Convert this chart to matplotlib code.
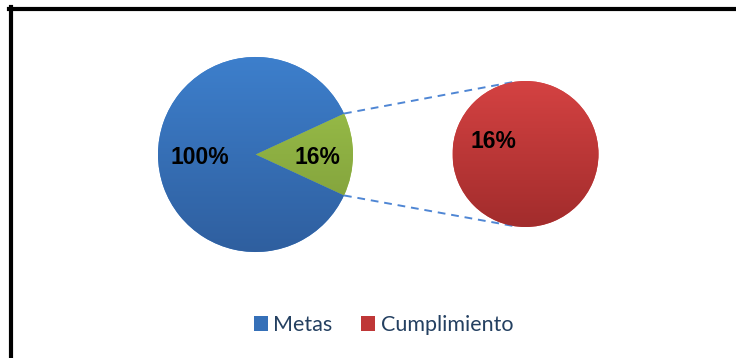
import numpy as np
import matplotlib.pyplot as plt
from matplotlib.patches import Patch
from matplotlib.colors import LinearSegmentedColormap
from matplotlib.lines import Line2D

categories = ["Metas", "Cumplimiento"]
metas = 100
cumplimiento = 16
main_labels = ["100%", "16%"]
sub_labels = ["16%"]

blue = ("#3d7fcc", "#2f5f9f")
green = ("#a0c64c", "#7a9838")
red = ("#d44242", "#a22c2c")

fig = plt.figure(figsize=(7.36, 3.58), dpi=100)
ax = fig.add_axes([0, 0, 1, 1])


def shade(patch, cols, cx, cy, r):
    # vertical gradient clipped to the wedge
    cmap = LinearSegmentedColormap.from_list("g", cols)
    grad = np.linspace(0, 1, 256).reshape(-1, 1)
    im = ax.imshow(grad, cmap=cmap, extent=(cx - r, cx + r, cy + r, cy - r),
                   origin="upper", aspect="auto", zorder=2)
    im.set_clip_path(patch)


# main pie: goal vs achieved
c1, r1 = (255.5, 154.5), 97.5
half = cumplimiento / (metas + cumplimiento) * 360 / 2
w1, _ = ax.pie([cumplimiento, metas], center=c1, radius=r1,
               startangle=-half, colors=[green[0], blue[0]],
               wedgeprops=dict(linewidth=0), frame=True)
shade(w1[0], green, *c1, r1)
shade(w1[1], blue, *c1, r1)

# secondary pie: achieved part
c2, r2 = (525.5, 154.0), 73
w2, _ = ax.pie([cumplimiento], center=c2, radius=r2, colors=[red[0]],
               wedgeprops=dict(linewidth=0), frame=True)
shade(w2[0], red, *c2, r2)
ax.set_xlim(0, 736)
ax.set_ylim(358, 0)
ax.set_aspect("equal")
ax.axis("off")

# connector lines
for sgn in (1, -1):
    a = np.radians(half)
    x0 = c1[0] + r1 * np.cos(a)
    y0 = c1[1] - sgn * r1 * np.sin(a)
    b = np.radians(100)
    x1 = c2[0] + r2 * np.cos(b)
    y1 = c2[1] - sgn * r2 * np.sin(b)
    ax.plot([x0, x1], [y0, y1], color="#4f86d4", lw=1.4, ls=(0, (4, 3)),
            zorder=1)

tkw = dict(fontsize=16.5, fontweight="bold", family="Liberation Sans",
           ha="center", va="center", zorder=5)
ax.text(c1[0] - 0.57 * r1, c1[1] + 3, main_labels[0], **tkw)
ax.text(c1[0] + 0.64 * r1, c1[1] + 3, main_labels[1], **tkw)
ax.text(c2[0] - 32, c2[1] - 13, sub_labels[0], **tkw)

handles = [Patch(facecolor="#3570b8", label=categories[0]),
           Patch(facecolor="#bf3737", label=categories[1])]
leg = fig.legend(handles=handles, loc="center", ncol=2,
                 bbox_to_anchor=(0.521, 0.092), frameon=False,
                 prop=dict(family="Lato", size=15.5),
                 handlelength=0.65, handleheight=0.65, handletextpad=0.25,
                 columnspacing=1.35)
for t in leg.get_texts():
    t.set_color("#244061")

# chart border (top and left)
fig.add_artist(Line2D([9 / 736, 1], [1 - 9 / 358] * 2, color="black",
                      lw=3, transform=fig.transFigure))
fig.add_artist(Line2D([11 / 736] * 2, [1 - 7 / 358, 0], color="black",
                      lw=3, transform=fig.transFigure))

fig.savefig("out.png", dpi=100)
